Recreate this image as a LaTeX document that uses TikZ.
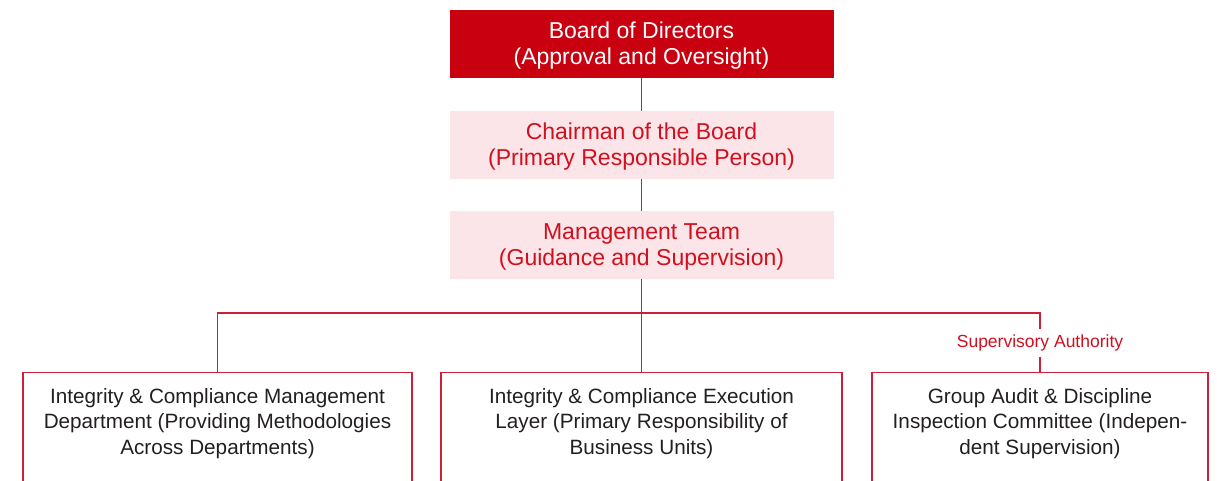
\documentclass[tikz,border=0pt]{standalone}
\usepackage{fontspec}
\setmainfont{Liberation Sans}
\definecolor{boardred}{HTML}{C8000F}
\definecolor{textred}{HTML}{D0101E}
\definecolor{pinkfill}{HTML}{FCE5E8}
\definecolor{linered}{HTML}{CC2038}
\definecolor{darktext}{HTML}{231F20}
\newcommand{\twolines}[2]{\raisebox{-2pt}[\height][\depth]{\begin{tabular}{@{}c@{}}#1\\#2\end{tabular}}}
\begin{document}
\begin{tikzpicture}[x=1pt,y=-1pt,
  topbox/.style={minimum width=384pt, minimum height=68pt, inner sep=0pt, align=center,
    font=\fontsize{23}{26.5}\selectfont},
  boardbox/.style={topbox, fill=boardred, text=white},
  pinkbox/.style={topbox, fill=pinkfill, text=textred},
  lowbox/.style={draw=linered, line width=1.2pt, minimum height=140pt, anchor=north, inner sep=0pt},
  lowtext/.style={text=darktext, align=center, anchor=north, inner sep=0pt,
    font=\fontsize{20.7}{25.5}\selectfont},
  conn/.style={draw=linered, line width=1.2pt},
  authlabel/.style={text=textred, inner xsep=1pt, inner ysep=6pt, font=\fontsize{17.5}{20}\selectfont}
]
\useasboundingbox (0,0) rectangle (1217,480);
\clip (0,0) rectangle (1217,480);

\node[boardbox] (board) at (641.5,44) {\twolines{Board of Directors}{(Approval and Oversight)}};
\node[pinkbox] (chair) at (641.5,145) {\twolines{Chairman of the Board}{(Primary Responsible Person)}};
\node[pinkbox] (mgmt) at (641.5,245) {\twolines{Management Team}{(Guidance and Supervision)}};

\node[lowbox, minimum width=389pt] (left) at (217.5,372) {};
\node[lowbox, minimum width=401pt] (mid) at (641.5,372) {};
\node[lowbox, minimum width=336pt] (right) at (1040,372) {};

\node[lowtext] (lefttext) at ([yshift=-16pt]left.north) {Integrity \& Compliance Management\\Department (Providing Methodologies\\Across Departments)};
\node[lowtext] (midtext) at ([yshift=-16pt]mid.north) {Integrity \& Compliance Execution\\Layer (Primary Responsibility of\\Business Units)};
\node[lowtext] (righttext) at ([yshift=-16pt]right.north) {Group Audit \& Discipline\\Inspection Committee (Indepen-\\dent Supervision)};

\node[authlabel] (auth) at (1040,343) {Supervisory Authority};

\coordinate (hub) at (641,313);

\draw[conn] (board.south) -- (chair.north);
\draw[conn] (chair.south) -- (mgmt.north);
\draw[conn] (mgmt.south) -- (mid.north);
\draw[conn] (hub) -| (left.north);
\draw[conn] (hub) -| (auth.north);
\draw[conn] (auth.south) -- (right.north);
\end{tikzpicture}
\end{document}
